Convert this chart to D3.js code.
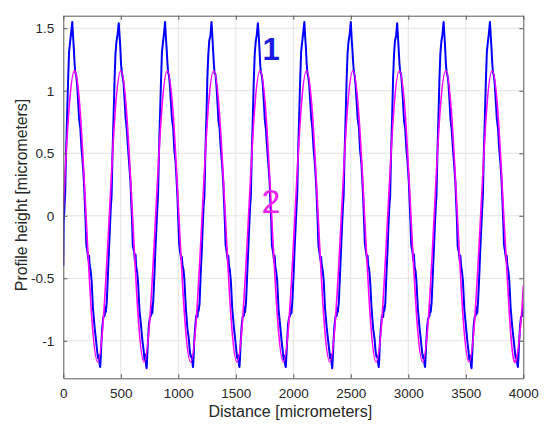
<!DOCTYPE html>
<html>
<head>
<meta charset="utf-8">
<script src="https://cdn.jsdelivr.net/npm/d3@7"></script>
<style>
  body { margin: 0; background: #fff; }
  svg text { font-family: "Liberation Sans", Roboto, "Open Sans", sans-serif; }
  .grid line { stroke: #e3e3e3; stroke-width: 1; }
  .axis text { fill: #262626; font-size: 13.5px; font-family: "Liberation Sans", Roboto, "Open Sans", sans-serif; }
  .axis path, .axis line { stroke: #5a5a5a; }
</style>
</head>
<body>
<svg width="550" height="436"></svg>
<script>
// -------------------- DATA --------------------
const xTicks = [0, 500, 1000, 1500, 2000, 2500, 3000, 3500, 4000];
const yTicks = [-1, -0.5, 0, 0.5, 1, 1.5];

// curve 1: measured profile (blue), one row per period
const blueDistance = [
  0, 3, 10, 16, 24, 34, 42, 50, 58, 68,
  78, 86, 92, 98, 104, 112, 120, 130, 138, 148, 158, 170, 180, 186, 194, 200, 210, 220, 224, 230, 238, 246, 258, 272, 284, 294, 302, 310, 316, 321, 326, 332, 340, 348, 360, 365, 370, 378, 388, 396, 406, 414, 420, 428, 438, 446, 454, 462, 472,
  482, 490, 496, 502, 508, 516, 524, 534, 542, 552, 562, 574, 584, 590, 598, 604, 614, 624, 628, 634, 642, 650, 662, 676, 688, 698, 706, 714, 720, 725, 730, 736, 744, 752, 764, 769, 774, 782, 792, 800, 810, 818, 824, 832, 842, 850, 858, 866, 876,
  885, 893, 899, 905, 911, 919, 927, 937, 945, 955, 965, 977, 987, 993, 1001, 1007, 1017, 1027, 1031, 1037, 1045, 1053, 1065, 1079, 1091, 1101, 1109, 1117, 1123, 1128, 1133, 1139, 1147, 1155, 1167, 1172, 1177, 1185, 1195, 1203, 1213, 1221, 1227, 1235, 1245, 1253, 1261, 1269, 1279,
  1289, 1297, 1303, 1309, 1315, 1323, 1331, 1341, 1349, 1359, 1369, 1381, 1391, 1397, 1405, 1411, 1421, 1431, 1435, 1441, 1449, 1457, 1469, 1483, 1495, 1505, 1513, 1521, 1527, 1532, 1537, 1543, 1551, 1559, 1571, 1576, 1581, 1589, 1599, 1607, 1617, 1625, 1631, 1639, 1649, 1657, 1665, 1673, 1683,
  1692, 1700, 1706, 1712, 1718, 1726, 1734, 1744, 1752, 1762, 1772, 1784, 1794, 1800, 1808, 1814, 1824, 1834, 1838, 1844, 1852, 1860, 1872, 1886, 1898, 1908, 1916, 1924, 1930, 1935, 1940, 1946, 1954, 1962, 1974, 1979, 1984, 1992, 2002, 2010, 2020, 2028, 2034, 2042, 2052, 2060, 2068, 2076, 2086,
  2096, 2104, 2110, 2116, 2122, 2130, 2138, 2148, 2156, 2166, 2176, 2188, 2198, 2204, 2212, 2218, 2228, 2238, 2242, 2248, 2256, 2264, 2276, 2290, 2302, 2312, 2320, 2328, 2334, 2339, 2344, 2350, 2358, 2366, 2378, 2383, 2388, 2396, 2406, 2414, 2424, 2432, 2438, 2446, 2456, 2464, 2472, 2480, 2490,
  2500, 2508, 2514, 2520, 2526, 2534, 2542, 2552, 2560, 2570, 2580, 2592, 2602, 2608, 2616, 2622, 2632, 2642, 2646, 2652, 2660, 2668, 2680, 2694, 2706, 2716, 2724, 2732, 2738, 2743, 2748, 2754, 2762, 2770, 2782, 2787, 2792, 2800, 2810, 2818, 2828, 2836, 2842, 2850, 2860, 2868, 2876, 2884, 2894,
  2903, 2911, 2917, 2923, 2929, 2937, 2945, 2955, 2963, 2973, 2983, 2995, 3005, 3011, 3019, 3025, 3035, 3045, 3049, 3055, 3063, 3071, 3083, 3097, 3109, 3119, 3127, 3135, 3141, 3146, 3151, 3157, 3165, 3173, 3185, 3190, 3195, 3203, 3213, 3221, 3231, 3239, 3245, 3253, 3263, 3271, 3279, 3287, 3297,
  3307, 3315, 3321, 3327, 3333, 3341, 3349, 3359, 3367, 3377, 3387, 3399, 3409, 3415, 3423, 3429, 3439, 3449, 3453, 3459, 3467, 3475, 3487, 3501, 3513, 3523, 3531, 3539, 3545, 3550, 3555, 3561, 3569, 3577, 3589, 3594, 3599, 3607, 3617, 3625, 3635, 3643, 3649, 3657, 3667, 3675, 3683, 3691, 3701,
  3710, 3718, 3724, 3730, 3736, 3744, 3752, 3762, 3770, 3780, 3790, 3802, 3812, 3818, 3826, 3832, 3842, 3852, 3856, 3862, 3870, 3878, 3890, 3904, 3916, 3926, 3934, 3942, 3948, 3953, 3958, 3964, 3972, 3980, 3992, 4000
];
const blueHeight = [
  -0.40, -0.06, 0.07, 0.17, 0.51, 0.83, 1.09, 1.31, 1.38, 1.46,
  1.55, 1.42, 1.33, 1.22, 1.15, 1.12, 1.05, 0.90, 0.77, 0.70, 0.54, 0.41, 0.26, 0.13, -0.05, -0.23, -0.29, -0.36, -0.32, -0.40, -0.44, -0.52, -0.74, -0.89, -0.99, -1.08, -1.14, -1.12, -1.19, -1.21, -1.13, -1.00, -0.88, -0.81, -0.80, -0.73, -0.77, -0.69, -0.47, -0.30, -0.08, 0.08, 0.16, 0.50, 0.82, 1.10, 1.30, 1.39, 1.45,
  1.54, 1.43, 1.34, 1.21, 1.16, 1.11, 1.06, 0.91, 0.78, 0.69, 0.55, 0.40, 0.27, 0.12, -0.04, -0.24, -0.28, -0.37, -0.31, -0.41, -0.45, -0.53, -0.75, -0.88, -1.00, -1.07, -1.15, -1.11, -1.20, -1.22, -1.12, -1.01, -0.87, -0.82, -0.79, -0.72, -0.78, -0.68, -0.48, -0.29, -0.09, 0.07, 0.17, 0.51, 0.83, 1.09, 1.31, 1.38, 1.46,
  1.55, 1.41, 1.33, 1.23, 1.15, 1.12, 1.04, 0.89, 0.77, 0.71, 0.53, 0.42, 0.25, 0.14, -0.06, -0.22, -0.30, -0.35, -0.33, -0.40, -0.43, -0.51, -0.73, -0.90, -0.98, -1.09, -1.13, -1.12, -1.18, -1.21, -1.14, -0.99, -0.89, -0.80, -0.81, -0.74, -0.76, -0.70, -0.46, -0.31, -0.07, 0.09, 0.15, 0.49, 0.81, 1.11, 1.29, 1.40, 1.44,
  1.55, 1.42, 1.32, 1.22, 1.14, 1.13, 1.05, 0.90, 0.76, 0.70, 0.54, 0.41, 0.26, 0.13, -0.05, -0.23, -0.29, -0.36, -0.32, -0.40, -0.44, -0.52, -0.74, -0.89, -0.99, -1.08, -1.14, -1.12, -1.19, -1.21, -1.13, -1.00, -0.88, -0.81, -0.80, -0.73, -0.77, -0.69, -0.47, -0.30, -0.08, 0.08, 0.16, 0.50, 0.82, 1.10, 1.30, 1.39, 1.45,
  1.54, 1.43, 1.33, 1.21, 1.15, 1.12, 1.06, 0.91, 0.77, 0.69, 0.55, 0.40, 0.27, 0.12, -0.04, -0.24, -0.29, -0.37, -0.32, -0.41, -0.45, -0.52, -0.75, -0.88, -1.00, -1.08, -1.15, -1.12, -1.20, -1.21, -1.12, -1.01, -0.87, -0.82, -0.79, -0.73, -0.78, -0.68, -0.48, -0.29, -0.09, 0.07, 0.17, 0.51, 0.83, 1.09, 1.31, 1.38, 1.46,
  1.55, 1.42, 1.34, 1.22, 1.15, 1.11, 1.05, 0.90, 0.78, 0.70, 0.54, 0.41, 0.26, 0.14, -0.05, -0.23, -0.30, -0.36, -0.33, -0.40, -0.44, -0.51, -0.74, -0.89, -0.99, -1.07, -1.14, -1.11, -1.19, -1.22, -1.13, -1.00, -0.88, -0.81, -0.80, -0.74, -0.77, -0.69, -0.47, -0.30, -0.08, 0.08, 0.16, 0.50, 0.82, 1.10, 1.30, 1.39, 1.45,
  1.55, 1.41, 1.33, 1.23, 1.16, 1.12, 1.04, 0.89, 0.77, 0.71, 0.53, 0.42, 0.25, 0.13, -0.06, -0.22, -0.29, -0.35, -0.32, -0.40, -0.43, -0.52, -0.73, -0.90, -0.98, -1.09, -1.13, -1.12, -1.18, -1.21, -1.14, -0.99, -0.89, -0.80, -0.81, -0.73, -0.76, -0.70, -0.46, -0.31, -0.07, 0.09, 0.15, 0.49, 0.81, 1.11, 1.29, 1.40, 1.44,
  1.54, 1.42, 1.32, 1.22, 1.15, 1.13, 1.05, 0.90, 0.76, 0.70, 0.54, 0.41, 0.26, 0.12, -0.05, -0.23, -0.28, -0.36, -0.31, -0.41, -0.44, -0.53, -0.74, -0.89, -0.99, -1.08, -1.14, -1.12, -1.19, -1.21, -1.12, -1.00, -0.88, -0.82, -0.80, -0.72, -0.77, -0.69, -0.47, -0.30, -0.08, 0.08, 0.16, 0.50, 0.82, 1.10, 1.30, 1.39, 1.45,
  1.55, 1.43, 1.33, 1.21, 1.15, 1.12, 1.06, 0.91, 0.77, 0.69, 0.55, 0.40, 0.27, 0.13, -0.04, -0.24, -0.29, -0.37, -0.32, -0.40, -0.45, -0.52, -0.75, -0.88, -1.00, -1.08, -1.15, -1.12, -1.20, -1.22, -1.13, -1.01, -0.87, -0.81, -0.79, -0.73, -0.78, -0.68, -0.48, -0.29, -0.09, 0.07, 0.17, 0.51, 0.83, 1.09, 1.31, 1.38, 1.46,
  1.55, 1.42, 1.33, 1.22, 1.15, 1.12, 1.05, 0.90, 0.77, 0.70, 0.54, 0.41, 0.26, 0.13, -0.05, -0.23, -0.29, -0.36, -0.32, -0.40, -0.44, -0.52, -0.74, -0.89, -0.99, -1.08, -1.14, -1.12, -1.19, -1.21, -1.13, -1.00, -0.88, -0.81, -0.80, -0.71
];

// curve 2: fitted sinusoid (magenta), sampled every 1/8 period
const magentaDistance = [
  0,
  47, 97, 148, 198, 248, 299, 349, 400,
  450, 501, 551, 602, 652, 702, 753, 803,
  854, 904, 955, 1005, 1056, 1106, 1157, 1207,
  1257, 1308, 1358, 1409, 1459, 1510, 1560, 1611,
  1661, 1711, 1762, 1812, 1863, 1913, 1964, 2014,
  2065, 2115, 2166, 2216, 2266, 2317, 2367, 2418,
  2468, 2519, 2569, 2620, 2670, 2720, 2771, 2821,
  2872, 2922, 2973, 3023, 3074, 3124, 3175, 3225,
  3275, 3326, 3376, 3427, 3477, 3528, 3578, 3629,
  3679, 3729, 3780, 3830, 3881, 3931, 3982, 4000
];
const magentaHeight = [
  0.07,
  0.82, 1.16, 0.82, 0.00, -0.82, -1.17, -0.82, 0.00,
  0.82, 1.16, 0.82, 0.00, -0.82, -1.17, -0.82, 0.00,
  0.82, 1.16, 0.82, 0.00, -0.82, -1.17, -0.82, 0.00,
  0.82, 1.16, 0.82, 0.00, -0.82, -1.17, -0.82, 0.00,
  0.82, 1.16, 0.82, 0.00, -0.82, -1.17, -0.82, 0.00,
  0.82, 1.16, 0.82, 0.00, -0.82, -1.17, -0.82, 0.00,
  0.82, 1.16, 0.82, 0.00, -0.82, -1.17, -0.82, 0.00,
  0.82, 1.16, 0.82, 0.00, -0.82, -1.17, -0.82, 0.00,
  0.82, 1.16, 0.82, 0.00, -0.82, -1.17, -0.82, 0.00,
  0.82, 1.16, 0.82, 0.00, -0.82, -1.17, -0.82, -0.56
];

// -------------------- LAYOUT --------------------
const svg = d3.select("svg");
const margin = { top: 15.7, right: 26.7, bottom: 57.7, left: 63.3 };
const width = 550 - margin.left - margin.right;
const height = 436 - margin.top - margin.bottom;

const x = d3.scaleLinear().domain([0, 4000]).range([0, width]);
const y = d3.scaleLinear().domain([-1.3, 1.6]).range([height, 0]);

const g = svg.append("g").attr("transform", `translate(${margin.left},${margin.top})`);

svg.append("defs").append("clipPath").attr("id", "plot-clip")
  .append("rect").attr("width", width).attr("height", height);

// -------------------- GRID --------------------
g.append("g").attr("class", "grid")
  .selectAll("line").data(xTicks.slice(1, -1)).enter().append("line")
  .attr("x1", d => x(d)).attr("x2", d => x(d))
  .attr("y1", 0).attr("y2", height);

g.append("g").attr("class", "grid")
  .selectAll("line").data(yTicks).enter().append("line")
  .attr("x1", 0).attr("x2", width)
  .attr("y1", d => y(d)).attr("y2", d => y(d));

// -------------------- LINES --------------------
const plot = g.append("g").attr("clip-path", "url(#plot-clip)");

const magentaLine = d3.line()
  .x((d, i) => x(magentaDistance[i]))
  .y(d => y(d))
  .curve(d3.curveNatural);

const blueLine = d3.line()
  .x((d, i) => x(blueDistance[i]))
  .y(d => y(d));

plot.append("path")
  .attr("d", blueLine(blueHeight))
  .attr("fill", "none")
  .attr("stroke", "#0000ff")
  .attr("stroke-width", 2)
  .attr("stroke-linejoin", "round");

plot.append("path")
  .attr("d", magentaLine(magentaHeight))
  .attr("fill", "none")
  .attr("stroke", "#ff00ff")
  .attr("stroke-width", 1.6);

// -------------------- AXES --------------------
const fmt = d => String(d);

g.append("g").attr("class", "axis")
  .attr("transform", `translate(0,${height})`)
  .call(d3.axisBottom(x).tickValues(xTicks).tickFormat(fmt).tickSizeInner(-4).tickSizeOuter(0).tickPadding(10));

g.append("g").attr("class", "axis")
  .call(d3.axisTop(x).tickValues(xTicks).tickFormat("").tickSizeInner(-4).tickSizeOuter(0));

g.append("g").attr("class", "axis")
  .call(d3.axisLeft(y).tickValues(yTicks).tickFormat(fmt).tickSizeInner(-4).tickSizeOuter(0).tickPadding(9));

g.append("g").attr("class", "axis")
  .attr("transform", `translate(${width},0)`)
  .call(d3.axisRight(y).tickValues(yTicks).tickFormat("").tickSizeInner(-4).tickSizeOuter(0));

// -------------------- LABELS --------------------
svg.append("text")
  .attr("x", margin.left + width / 2 - 3)
  .attr("y", 417)
  .attr("text-anchor", "middle")
  .style("font-size", "16px")
  .style("fill", "#262626")
  .text("Distance [micrometers]");

svg.append("text")
  .attr("transform", `translate(26.5,${margin.top + height / 2 - 2}) rotate(-90)`)
  .attr("text-anchor", "middle")
  .style("font-size", "15.8px")
  .style("fill", "#262626")
  .text("Profile height [micrometers]");

svg.append("text")
  .attr("x", 271).attr("y", 60)
  .attr("text-anchor", "middle")
  .style("font-size", "31px")
  .style("font-weight", "bold")
  .style("fill", "#1a1ae0")
  .text("1");

svg.append("text")
  .attr("x", 271).attr("y", 213)
  .attr("text-anchor", "middle")
  .style("font-size", "34px")
  .style("fill", "#ee22ee")
  .text("2");
</script>
</body>
</html>
